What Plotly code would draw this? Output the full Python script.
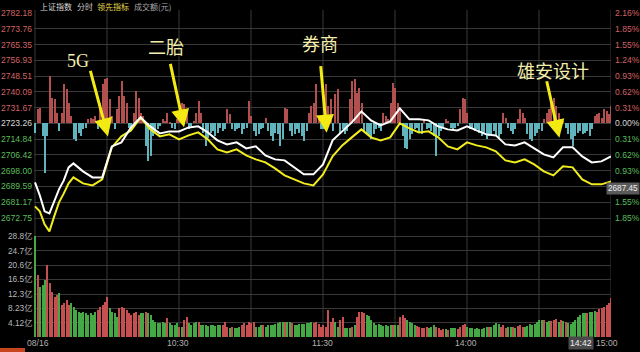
import plotly.graph_objects as go

# ---------------- data ----------------
prev_close = 2723.26

price_ticks = [2782.18, 2773.76, 2765.35, 2756.93, 2748.51, 2740.09, 2731.67,
               2723.26, 2714.84, 2706.42, 2698.00, 2689.59, 2681.17, 2672.75]
pct_labels = ["2.16%", "1.85%", "1.55%", "1.24%", "0.93%", "0.62%", "0.31%",
              "0.00%", "0.31%", "0.62%", "0.93%", "1.24%", "1.55%", "1.85%"]
vol_ticks = [4.12, 8.23, 12.3, 16.5, 20.6, 24.7, 28.8]
vol_tick_labels = ["4.12亿", "8.23亿", "12.3亿", "16.5亿", "20.6亿", "24.7亿", "28.8亿"]
time_ticks = [60, 120, 180, 240]
time_labels = ["10:30", "11:30", "14:00", "15:00"]
grid_minutes = [0, 30, 60, 90, 120, 150, 180, 210, 240]

# minutes after 09:30 (trading minutes) at which the two lines were read
line_minutes = [0, 2, 4, 6, 8, 10, 12, 14, 16] + list(range(20, 241, 4))
white_price = [2691.77, 2684.83, 2676.29, 2675.22, 2681.62, 2688.03, 2692.83, 2699.77, 2701.91,
               2697.64, 2694.43, 2694.43, 2710.98, 2713.12, 2721.12, 2726.46, 2721.66, 2717.92, 2718.99,
               2718.99, 2721.12, 2721.66, 2718.46, 2714.19, 2712.05, 2713.12, 2709.91, 2710.98, 2706.18,
               2704.04, 2703.51, 2699.77, 2696.04, 2696.04, 2701.37, 2714.19, 2718.99, 2723.79, 2729.67,
               2724.86, 2722.19, 2724.33, 2731.27, 2725.40, 2725.40, 2724.86, 2721.66, 2720.06, 2719.52,
               2721.66, 2719.52, 2717.39, 2716.85, 2712.05, 2711.52, 2713.12, 2709.91, 2706.71, 2705.11,
               2710.45, 2710.45, 2705.64, 2702.44, 2702.98, 2705.64]
yellow_price = [2678.95, 2676.29, 2669.35, 2665.61, 2673.62, 2681.09, 2685.89, 2691.23, 2694.43,
                2691.23, 2690.16, 2693.37, 2710.45, 2716.32, 2719.52, 2726.46, 2720.06, 2716.32, 2717.39,
                2714.72, 2716.85, 2718.46, 2714.72, 2709.38, 2707.78, 2709.38, 2706.18, 2704.04, 2702.44,
                2699.24, 2695.50, 2693.37, 2691.23, 2690.16, 2696.04, 2705.64, 2711.52, 2715.79, 2720.06,
                2715.79, 2714.19, 2715.79, 2723.26, 2720.59, 2718.46, 2718.99, 2715.79, 2710.98, 2709.38,
                2713.12, 2711.52, 2710.45, 2708.31, 2703.51, 2702.44, 2704.04, 2701.37, 2697.64, 2695.50,
                2700.31, 2699.77, 2693.37, 2690.70, 2690.70, 2692.30]

# leading-indicator bars (index points relative to previous close), one per minute
lead_am = [-5.0, 7.5, 8.4, -6.8, -26.3, -6.8, 25.3, 13.7, 12.8, 5.7,
           -4.1, 5.7, 20.8, 18.1, 11.0, 3.9, -8.5, -9.4, -5.0, -6.8,
           -3.2, -2.3, 2.1, 3.0, 2.1, 3.9, -3.2, 11.0, 20.8, 23.5,
           24.4, 12.8, 3.9, -3.2, 7.5, 14.6, 22.6, 14.6, 11.0, -2.3,
           -3.2, 5.7, 17.3, 13.7, 5.7, 3.9, -12.1, -20.1, -17.4, -6.8,
           -5.0, -3.2, -1.4, 2.1, 1.2, 5.7, 0.4, -2.3, -3.2, 2.1,
           5.7, 11.0, 10.1, 7.5, -3.2, -1.4, 1.2, 5.7, 11.9, 5.7,
           -5.0, -12.1, -7.6, -5.0, -4.1, -6.8, -5.0, -2.3, -4.1, -3.2,
           7.5, 4.8, -3.2, -4.1, -3.2, -2.3, -5.9, -3.2, -2.3, 11.9,
           3.9, -4.1, -6.8, -5.9, -3.2, -2.3, 3.0, -4.1, -6.8, -9.4,
           -5.0, -5.9, -12.1, -8.5, 8.4, 7.5, -4.1, -6.8, -5.9, -3.2,
           -5.0, -6.8, -9.4, -4.1, 5.7, 9.3, 11.0, 20.8, 3.9, -3.2]
lead_pm = [-3.2, 20.8, 9.3, 12.8, -4.1, 15.5, 18.1, -5.0, -3.2, -5.9,
           -4.1, 12.8, 22.6, 23.5, 16.4, 19.0, 11.0, -4.1, -5.9, -6.8,
           -8.5, -5.9, -3.2, -2.3, -4.1, 5.7, 3.9, 2.1, 11.0, 21.7,
           19.0, 11.0, 7.5, -6.8, -13.0, -13.9, -8.5, -5.9, -3.2, -2.3,
           -5.0, -5.9, 2.1, -3.2, -2.3, -4.1, -6.8, -17.4, -6.8, -4.1,
           -2.3, 2.1, 1.2, -2.3, -3.2, -2.3, -1.4, 7.5, 13.7, 12.8,
           5.7, -3.2, -2.3, -4.1, -3.2, -5.0, -6.8, -5.9, -8.5, -6.8,
           -5.9, -4.1, -6.8, -8.5, -5.9, 5.7, 3.0, -2.3, -4.1, -5.9,
           -3.2, 2.1, 7.5, 5.7, 3.0, -5.9, -8.5, -9.4, -6.8, -5.0,
           -3.2, -4.1, 2.1, 5.7, 7.5, 11.0, 13.7, 9.3, 5.7, 2.1,
           1.2, -2.3, -5.9, -8.5, -12.1, -6.8, -5.0, -4.1, -5.9, -5.0,
           -4.1, -6.8, -3.2, 3.9, 4.8, 5.7, 3.0, 7.5, 6.6, 4.8, 9.3]

# turnover (亿元) per minute, and up(r)/down(g) flag
vol_open = [28.8, 17.7, 14.4, 14.9, 16.3, 20.6, 15.4, 13.0, 11.5, 12.0,
            12.5, 9.2, 9.6, 10.6, 9.2, 9.6, 8.7, 7.7, 7.2, 6.8,
            7.2, 6.8, 6.3, 6.8, 6.3, 7.2, 7.7, 8.7, 9.2, 10.1,
            11.5, 8.2, 7.2, 6.8, 5.8, 8.2, 8.7, 8.2, 7.7, 6.8,
            6.3, 6.8, 7.2, 6.3, 6.8, 6.8, 7.2, 6.8, 6.3, 4.9,
            4.4, 3.9, 3.9, 4.4, 3.9, 5.3, 3.9, 3.4, 3.4, 3.9,
            2.9, 2.9, 4.9, 5.8, 3.9, 3.4, 3.9, 4.4]
dir_open = ("grgggrrrrr" "grrrrggggg" "ggggggrrrr" "rggggrrrrr" "rrrrggrggg"
            "gggggrgggg" "rgrrgggg")
vol_mid = [4.4, 3.4, 3.4, 3.4, 3.1, 3.4, 3.4, 3.1, 3.4, 3.4,
           3.4, 4.4, 3.0, 2.5, 3.0, 2.5, 2.5, 3.0, 3.4, 3.9,
           3.4, 4.4, 3.9, 4.4, 3.0, 3.0, 3.4, 3.4, 3.0, 3.4,
           3.4, 3.4, 3.7, 4.1, 4.4, 4.4, 4.4, 4.4, 4.4, 4.1,
           3.4, 3.4, 3.7, 3.7, 3.7, 3.9, 4.1, 4.4, 4.1, 4.4,
           3.7, 3.0, 3.4, 3.0, 7.7, 4.4, 5.3, 4.4, 3.0, 4.9,
           5.8, 2.5, 2.5, 2.5, 3.0, 3.4, 5.8, 7.2, 7.2, 6.8,
           6.3, 6.0, 4.9, 3.9, 3.4, 3.7, 3.4, 3.1, 3.4, 3.1,
           3.4, 3.4, 3.4, 3.4, 5.8, 6.3, 5.3, 4.9, 4.4, 3.9,
           3.4, 3.1, 3.0, 2.5, 2.5]
dir_mid = ("rggggggggg" "rrrgrgggrr" "rrrrgggrgg" "ggggggrggr" "ggggggggrr"
           "rrrrrrrggr" "rgggrgrrrr" "gggggggggg" "grggrrrggg" "grrrr")
vol_close = [2.8, 2.5, 2.8, 3.4, 3.0, 2.5, 2.0, 2.2, 2.2, 2.0,
             2.5, 2.5, 2.5, 2.2, 3.0, 3.4, 3.7, 2.8, 2.5, 2.5,
             2.2, 2.5, 2.2, 2.2, 2.5, 3.0, 3.0, 3.0, 3.4, 3.9,
             3.7, 3.0, 3.4, 2.5, 2.8, 2.8, 2.8, 2.5, 3.1, 3.4,
             3.0, 2.8, 3.1, 3.7, 3.4, 3.7, 4.4, 4.9, 4.9, 4.9,
             4.4, 4.7, 4.7, 4.9, 5.1, 4.4, 4.9, 4.7, 4.4, 3.9,
             3.7, 4.4, 4.9, 5.8, 6.3, 6.8, 7.0, 7.0, 7.2, 7.2,
             7.4, 7.2, 7.9, 8.2, 8.7, 9.2, 9.6, 11.1]
dir_close = ("rgggrrrrgr" "gggrrrrggg" "ggggggrggg" "grrrggrgrr" "rggggggggr"
             "ggrrrgrgrg" "gggggggrgg" "grrrrrrr")

# annotations (label, arrow tip minute, arrow tip price, label minute, label price, tail dx, tail dy)
callouts = [("5G", 30.4, 2716.32, 17.9, 2756.36, -18, -67),
            ("二胎", 62.1, 2721.13, 54.6, 2764.36, -14, -65),
            ("券商", 121.5, 2718.30, 118.8, 2765.96, -6, -68),
            ("雄安设计", 218.5, 2715.60, 215.8, 2751.55, -13, -58)]

# ---------------- build ----------------
W, H = 640, 352
minutes = list(range(241))
lead = lead_am + lead_pm
volume = vol_open + vol_mid + vol_close
direction = dir_open + dir_mid + dir_close

RED_V, GRN_V = "#c65050", "#44a844"
RED_L, CYAN_L = "#b25050", "#5fb4be"

def py(px):  # pixel row -> paper fraction
    return 1 - px / H

fig = go.Figure()

fig.add_trace(go.Bar(x=minutes, y=lead, base=prev_close, width=0.42,
                     marker=dict(color=[RED_L if v >= 0 else CYAN_L for v in lead], line_width=0),
                     xaxis="x", yaxis="y", showlegend=False, hoverinfo="skip"))
fig.add_trace(go.Scatter(x=line_minutes, y=yellow_price, mode="lines",
                         line=dict(color="#f0ec1e", width=2), xaxis="x", yaxis="y",
                         showlegend=False, hoverinfo="skip"))
fig.add_trace(go.Scatter(x=line_minutes, y=white_price, mode="lines",
                         line=dict(color="#ffffff", width=2), xaxis="x", yaxis="y",
                         showlegend=False, hoverinfo="skip"))
fig.add_trace(go.Bar(x=minutes, y=volume, width=0.5,
                     marker=dict(color=[RED_V if d == "r" else GRN_V for d in direction], line_width=0),
                     xaxis="x", yaxis="y2", showlegend=False, hoverinfo="skip"))

grid_c = "#383838"
x0p, x1p = (35 - 0.6 * 2.4) / W, 611 / W
price_bottom = price_ticks[-1] - (236 - 218) * (price_ticks[0] - price_ticks[-1]) / 205

fig.update_layout(
    width=W, height=H, margin=dict(l=0, r=0, t=0, b=0),
    paper_bgcolor="#000000", plot_bgcolor="rgba(0,0,0,0)",
    barmode="overlay", bargap=0,
    font=dict(family="Liberation Sans, Noto Sans CJK SC", size=9, color="#bbbbbb"),
    xaxis=dict(domain=[x0p, x1p], range=[-0.6, 240], showgrid=False, zeroline=False,
               showticklabels=False, anchor="y2", fixedrange=True),
    yaxis=dict(domain=[py(236), py(13)], range=[price_bottom, price_ticks[0]],
               tickvals=price_ticks, showticklabels=False, showgrid=True,
               gridcolor=grid_c, gridwidth=1, zeroline=False, anchor="x"),
    yaxis2=dict(domain=[py(337), py(228)], range=[0, 31.2], tickvals=vol_ticks,
                showticklabels=False, showgrid=True, gridcolor=grid_c, gridwidth=1,
                zeroline=False, anchor="x"),
)

shapes = []
for m in grid_minutes:
    shapes.append(dict(type="line", xref="x", yref="paper", x0=m, x1=m,
                       y0=py(337), y1=py(10), line=dict(color=grid_c, width=1), layer="below"))
shapes.append(dict(type="rect", xref="paper", yref="paper", x0=0, x1=25 / W,
                   y0=0, y1=py(348), fillcolor="#c8461e", line_width=0))
fig.update_layout(shapes=shapes)

ann = []
num_font = "Liberation Sans"
for v, p in zip(price_ticks, pct_labels):
    if v > prev_close + 0.01:
        col = "#d06262"
    elif v < prev_close - 0.01:
        col = "#5cbc5c"
    else:
        col = "#d8d8d8"
    ann.append(dict(xref="paper", yref="y", x=33.5 / W, y=v, text=f"{v:.2f}", showarrow=False,
                    xanchor="right", yanchor="middle", font=dict(family=num_font, size=8.6, color=col)))
    if p == "1.24%" and v < prev_close:
        continue  # hidden behind the cursor price box
    ann.append(dict(xref="paper", yref="y", x=613 / W, y=v, text=p, showarrow=False,
                    xanchor="left", yanchor="middle", font=dict(family=num_font, size=8.6, color=col)))

for v, t in zip(vol_ticks, vol_tick_labels):
    ann.append(dict(xref="paper", yref="y2", x=33.5 / W, y=v, text=t, showarrow=False,
                    xanchor="right", yanchor="middle",
                    font=dict(family="Liberation Sans, Noto Sans CJK SC", size=8.3, color="#b8b8b8")))

# time axis labels
ann.append(dict(xref="paper", yref="paper", x=25 / W, y=py(343), text="08/16", showarrow=False,
                xanchor="left", yanchor="middle", font=dict(family=num_font, size=8.6, color="#b0b0b0")))
for m, t in zip(time_ticks, time_labels):
    ann.append(dict(xref="x", yref="paper", x=m, y=py(343), text=t, showarrow=False,
                    xanchor="center", yanchor="middle", xshift=-4 if m == 240 else -1,
                    font=dict(family=num_font, size=8.6, color="#b0b0b0")))
# cursor boxes
ann.append(dict(xref="x", yref="paper", x=222, y=py(343), text="14:42", showarrow=False,
                xanchor="left", yanchor="middle", bgcolor="#4a4a4a", borderpad=1,
                font=dict(family=num_font, size=8.6, color="#f0f0f0")))
ann.append(dict(xref="paper", yref="y", x=1.0, y=2688.3, text="2687.45", showarrow=False,
                xanchor="right", yanchor="middle", bgcolor="#5a5a5a", borderpad=1,
                font=dict(family=num_font, size=8.2, color="#f0f0f0")))

# header
header = [("上证指数", 38, "#d8d8d8"), ("分时", 75, "#c8c8c8"),
          ("领先指标", 95, "#e6d84a"), ("成交额(元)", 132, "#a8a8a8")]
for t, xp, c in header:
    ann.append(dict(xref="paper", yref="paper", x=xp / W, y=py(6), text=t, showarrow=False,
                    xanchor="left", yanchor="middle",
                    font=dict(family="Noto Sans CJK SC", size=8, color=c)))

# callouts with arrows
for label, tx, ty, lx, ly, ax, ay in callouts:
    ann.append(dict(xref="x", yref="y", x=tx, y=ty, text="", showarrow=True,
                    ax=ax, ay=ay, axref="pixel", ayref="pixel",
                    arrowhead=2, arrowsize=1.2, arrowwidth=3, arrowcolor="#f2ea12", standoff=0))
    fam = "Liberation Serif" if label == "5G" else "Noto Sans CJK SC"
    ann.append(dict(xref="x", yref="y", x=lx, y=ly, text=label, showarrow=False,
                    xanchor="center", yanchor="middle",
                    font=dict(family=fam, size=18, color="#f4eeae")))

fig.update_layout(annotations=ann)
fig.write_html("out.html")
